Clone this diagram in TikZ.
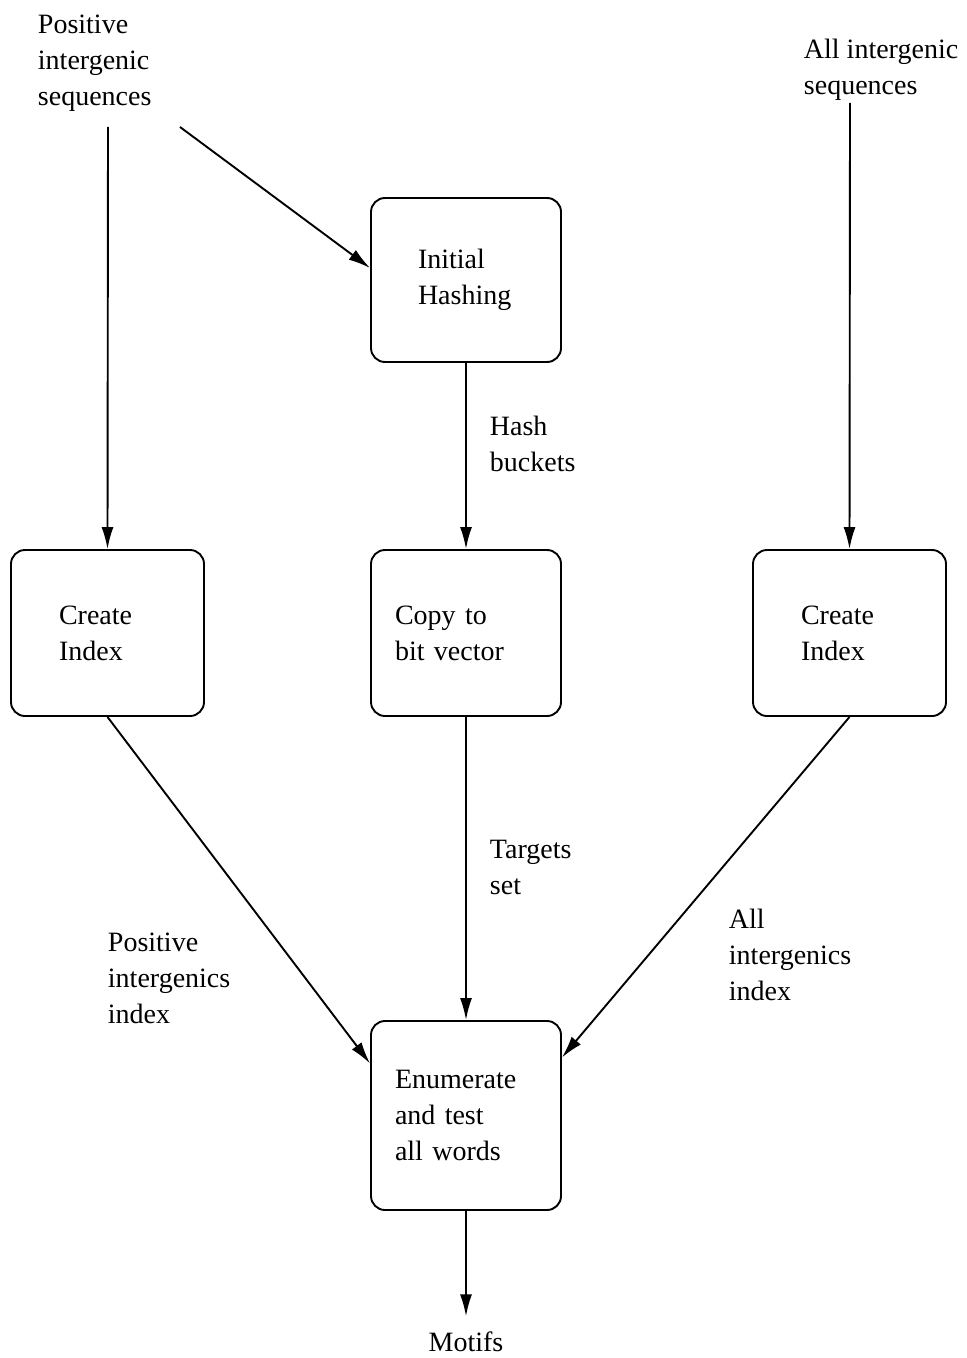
\documentclass[tikz,border=0pt]{standalone}
\usepackage{fontspec}
\setmainfont{Liberation Serif}
\usetikzlibrary{arrows.meta, positioning}

\begin{document}
\begin{tikzpicture}[x=0.5pt, y=-0.5pt, ->, >={Latex[length=11pt,width=6pt]},
    line width=0.95pt, font=\fontsize{14}{18}\selectfont,
    box/.style 2 args={draw, rounded corners=7pt, align=left, minimum height=83pt,
        inner xsep=#1, text width=#2},
    txt/.style={inner sep=0pt, align=left, anchor=north west}]

    \useasboundingbox (0,0) rectangle (967,1358);

    % processing steps
    \node[box={23.5pt}{48pt}, minimum height=82pt] (hash)  at (466,280)    {Initial\\Hashing};
    \node[box={24pt}{48.5pt}]                    (cidxL) at (107.5,633)  {Create\\Index};
    \node[box={12pt}{71pt}]                      (copy)  at (466,633)    {Copy to\\bit vector};
    \node[box={24pt}{48.5pt}]                    (cidxR) at (849.5,633)  {Create\\Index};
    \node[box={12pt}{71pt}, minimum height=94.5pt] (enum) at (466,1115.5) {Enumerate\\and test\\all words};

    % inputs, output and labels
    \node[txt] (posseq) at (37,14)   {Positive\\intergenic\\sequences};
    \node[txt] (allseq) at (803,38)  {All intergenic\\sequences};
    \node[txt] (hashlbl) at (489,415) {Hash\\buckets};
    \node[txt] (tgtlbl)  at (489,839) {Targets\\set};
    \node[txt] (poslbl)  at (107,932) {Positive\\intergenics\\index};
    \node[txt] (alllbl)  at (728,908) {All\\intergenics\\index};
    \node[inner sep=7pt, anchor=base] (motifs) at (466,1351) {Motifs};

    \coordinate (posL) at (108,127);
    \coordinate (posD) at (180,127);
    \coordinate (allR) at (850,103);

    \path (posL) edge (cidxL.north)
          (posD) edge ([yshift=6pt]hash.west)
          (allR) edge (cidxR.north)
          (hash) edge (copy)
          (copy) edge (enum)
          (cidxL.south) edge ([yshift=26pt]enum.west)
          (cidxR.south) edge ([yshift=29pt]enum.east)
          (enum) edge (motifs);
\end{tikzpicture}
\end{document}
